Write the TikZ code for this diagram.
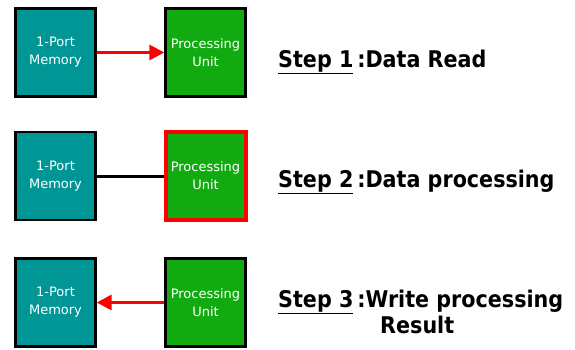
\documentclass[tikz,border=0pt]{standalone}
\usepackage{fontspec}
\setmainfont{DejaVu Sans}
\newfontfamily\labelfont{DejaVu Sans Condensed}
\usetikzlibrary{arrows.meta}
\definecolor{memteal}{RGB}{0,150,150}
\definecolor{pugreen}{RGB}{17,170,17}
\definecolor{arrred}{RGB}{255,0,0}
\newcommand{\stepul}[1]{\underline{#1}}
\begin{document}
\begin{tikzpicture}[x=1pt,y=-1pt,
  blk/.style={draw=black,line width=2.3pt,minimum width=80pt,minimum height=88pt,
    text=white,align=center,font=\fontsize{13}{18}\selectfont,inner sep=0pt},
  mem/.style={blk,fill=memteal},
  pu/.style={blk,fill=pugreen},
  puhot/.style={pu,draw=arrred,line width=4pt},
  redarrow/.style={draw=arrred,line width=3.2pt,-{Triangle[length=15pt,width=15pt]}},
  plainline/.style={draw=black,line width=3pt},
  steplbl/.style={anchor=base west,inner sep=0pt,font=\labelfont\bfseries\fontsize{23}{26}\selectfont}]
\useasboundingbox (0,0) rectangle (575,349);
% row 1
\node[mem] (m1) at (55.5,52.5) {1-Port\\Memory};
\node[pu]  (p1) at (205.5,52.5) {Processing\\Unit};
\draw[redarrow] (m1.east) -- (p1.west);
\node[steplbl] (s1) at (278,67) {\stepul{Step 1}\,:Data Read};
% row 2
\node[mem] (m2) at (55.5,176) {1-Port\\Memory};
\node[puhot] (p2) at (205.5,176) {Processing\\Unit};
\draw[plainline] (m2.east) -- (p2.west);
\node[steplbl] (s2) at (278,187) {\stepul{Step 2}\,:Data processing};
% row 3
\node[mem] (m3) at (55.5,302.5) {1-Port\\Memory};
\node[pu]  (p3) at (205.5,302.5) {Processing\\Unit};
\draw[redarrow] (p3.west) -- (m3.east);
\node[steplbl] (s3) at (278,307) {\stepul{Step 3}\,:Write processing};
\node[steplbl] (s3b) at (380,333) {Result};
\end{tikzpicture}
\end{document}
